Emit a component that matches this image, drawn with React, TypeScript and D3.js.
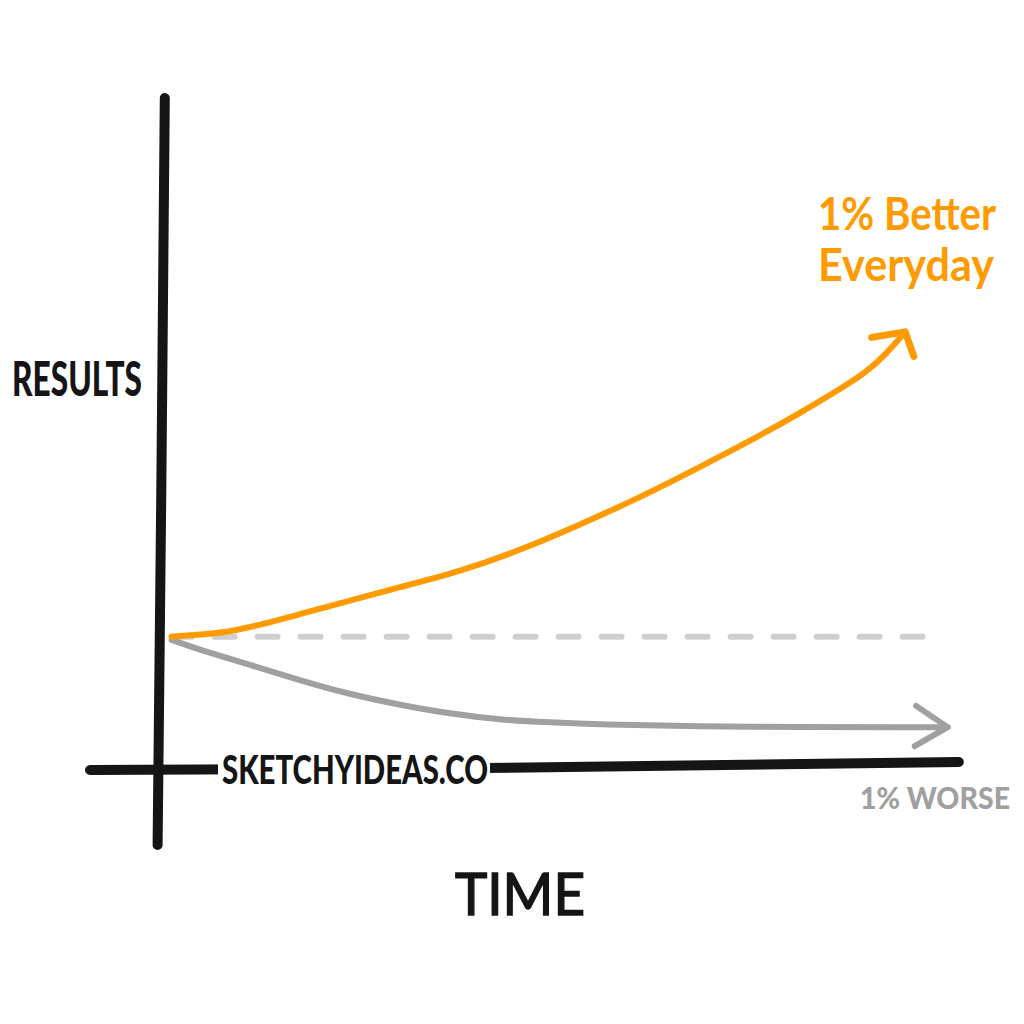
import React from "react";
import * as d3 from "d3";

// ---- data (time in arbitrary units, results in arbitrary units) ----
const betterTime = [1.2, 4.8, 8.5, 14.8, 22.2, 29.8, 37.2, 44.8, 52.2, 59.8, 67.2, 73.5, 79.8, 84.8, 88.1, 90.6, 92.9];
const betterValue = [19.6, 19.9, 20.3, 22.1, 24.6, 27.0, 29.3, 32.5, 36.3, 40.4, 44.9, 48.8, 53.0, 56.6, 59.1, 61.9, 65.1];

const worseTime = [1.2, 4.8, 11, 17.2, 23.5, 29.8, 36, 42.2, 48.5, 54.8, 67.2, 79.8, 92.2, 98.2];
const worseValue = [19.1, 17.6, 15.4, 13.1, 11.0, 9.4, 8.1, 7.2, 6.8, 6.5, 6.2, 6.1, 6.1, 6.1];

const baselineTime = [1.2, 97.2];
const baselineValue = [19.6, 19.6];

const yAxisLabel = "RESULTS";
const xAxisLabel = "TIME";
const betterLabel = ["1% Better", "Everyday"];
const worseLabel = "1% WORSE";
const watermark = "SKETCHYIDEAS.CO";

const W = 1024;
const H = 1024;

const x = d3.scaleLinear().domain([0, 100]).range([162, 962]);
const y = d3.scaleLinear().domain([0, 100]).range([768, 98]);

const ORANGE = "#ff9a00";
const GREY = "#a0a0a0";
const DASH = "#cfcfcf";
const INK = "#151515";

type P = [number, number];

function zip(ts: number[], vs: number[]): P[] {
  return ts.map((t, i) => [x(t), y(vs[i])] as P);
}

const line = d3.line<P>().x((d) => d[0]).y((d) => d[1]).curve(d3.curveBasis);

function arrowHead(pts: P[], len1: number, len2: number, a1: number, a2: number): string {
  const n = pts.length;
  const [tx, ty] = pts[n - 1];
  const [px, py] = pts[n - 2];
  const back = Math.atan2(py - ty, px - tx);
  const r1 = back + (a1 * Math.PI) / 180;
  const r2 = back + (a2 * Math.PI) / 180;
  return `M${tx + len1 * Math.cos(r1)},${ty + len1 * Math.sin(r1)} L${tx},${ty} L${tx + len2 * Math.cos(r2)},${ty + len2 * Math.sin(r2)}`;
}

export default function App() {
  const better = zip(betterTime, betterValue);
  const worse = zip(worseTime, worseValue);
  const base = zip(baselineTime, baselineValue);

  const font = "Lato, 'Open Sans', sans-serif";

  return (
    <svg
      width={W}
      height={H}
      viewBox={`0 0 ${W} ${H}`}
      style={{ position: "absolute", left: 0, top: 0, background: "#fff" }}
    >
      <rect x={0} y={0} width={W} height={H} fill="#fff" />

      {/* baseline dashed */}
      <path
        d={line(base) || ""}
        fill="none"
        stroke={DASH}
        strokeWidth={6}
        strokeLinecap="round"
        strokeDasharray="20 23"
      />

      {/* worse curve */}
      <path d={line(worse) || ""} fill="none" stroke={GREY} strokeWidth={6} strokeLinecap="round" />
      <path
        d={arrowHead(worse, 38, 38, -30, 34)}
        fill="none"
        stroke={GREY}
        strokeWidth={6}
        strokeLinecap="round"
        strokeLinejoin="round"
      />

      {/* better curve */}
      <path d={line(better) || ""} fill="none" stroke={ORANGE} strokeWidth={6} strokeLinecap="round" />
      <path
        d={arrowHead(better, 34, 26, 40, -60)}
        fill="none"
        stroke={ORANGE}
        strokeWidth={7}
        strokeLinecap="round"
        strokeLinejoin="round"
      />

      {/* axes */}
      <path
        d={`M${x(0.35)},${y(100)} L${x(-0.1)},${y(40)} L${x(-0.55)},${y(-11.5)}`}
        fill="none"
        stroke={INK}
        strokeWidth={10}
        strokeLinecap="round"
        strokeLinejoin="round"
      />
      <path
        d={`M${x(-9)},${y(-0.3)} L${x(40)},${y(0)} L${x(99.6)},${y(0.9)}`}
        fill="none"
        stroke={INK}
        strokeWidth={10}
        strokeLinecap="round"
        strokeLinejoin="round"
      />

      {/* watermark on axis */}
      <rect x={218} y={745} width={272} height={45} fill="#fff" />
      <text
        x={222}
        y={784}
        fontFamily={font}
        fontWeight={900}
        fontSize={40}
        fill={INK}
        textLength={266}
        lengthAdjust="spacingAndGlyphs"
      >
        {watermark}
      </text>

      {/* axis labels */}
      <text
        x={12}
        y={396}
        fontFamily={font}
        fontWeight={900}
        fontSize={48}
        fill={INK}
        textLength={130}
        lengthAdjust="spacingAndGlyphs"
      >
        {yAxisLabel}
      </text>
      <text
        x={455}
        y={915}
        fontFamily={font}
        fontWeight={400}
        fontSize={58}
        fill={INK}
        stroke={INK}
        strokeWidth={1.5}
        textLength={130}
        lengthAdjust="spacingAndGlyphs"
      >
        {xAxisLabel}
      </text>

      {/* series labels */}
      <text
        x={818}
        y={230}
        fontFamily={font}
        fontWeight={700}
        fontSize={46}
        fill={ORANGE}
        textLength={178}
        lengthAdjust="spacingAndGlyphs"
      >
        {betterLabel[0]}
      </text>
      <text
        x={818}
        y={281}
        fontFamily={font}
        fontWeight={700}
        fontSize={46}
        fill={ORANGE}
        textLength={176}
        lengthAdjust="spacingAndGlyphs"
      >
        {betterLabel[1]}
      </text>
      <text
        x={860}
        y={809}
        fontFamily={font}
        fontWeight={900}
        fontSize={31}
        fill={GREY}
        textLength={150}
        lengthAdjust="spacingAndGlyphs"
      >
        {worseLabel}
      </text>
    </svg>
  );
}
